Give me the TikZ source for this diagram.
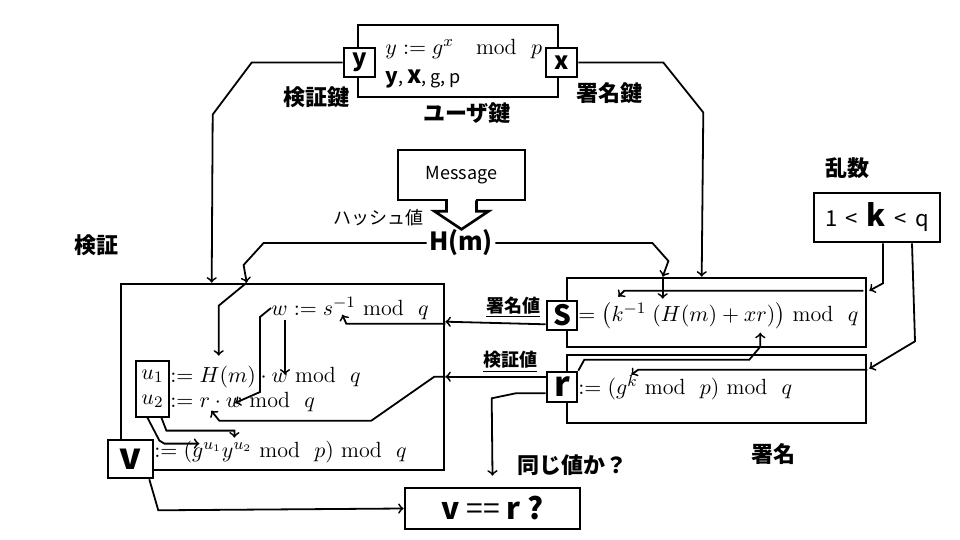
\documentclass[tikz,border=0pt]{standalone}
\usepackage{amsmath}
\usepackage{fontspec}
\newfontfamily\jp{Noto Sans CJK JP}
\usetikzlibrary{calc}

\newcommand{\md}{\ \mathrm{mod}\ \ }

\tikzset{
  frame/.style={draw=black, line width=1.3pt, inner sep=0pt},
  keybox/.style={draw=black, line width=1.3pt, fill=white, inner sep=0pt, font=\jp\bfseries},
  lbl/.style={font=\jp\bfseries\fontsize{11}{13}\selectfont},
  eq/.style={font=\fontsize{11}{13}\selectfont, inner sep=0pt, anchor=west},
  ptr/.style={black, line width=0.9pt, ->},
}

\begin{document}
\begin{tikzpicture}[x=0.5pt, y=-0.5pt]
\useasboundingbox (0, 0) rectangle (960, 540);

% user key
\node (ukey) at (458, 61) [frame, minimum width=100pt, minimum height=36pt] {};
\node (ydef) at (385, 49) [eq] {$y := g^x \quad \mathrm{mod}\ \ p$};
\node (yxgp) at (385, 79) [anchor=west, inner sep=0pt, font=\jp\fontsize{9}{11}\selectfont] {{\bfseries\fontsize{10.5}{11}\selectfont y}, {\bfseries\fontsize{12}{11}\selectfont x}, g, p};
\node (yk) at (359.5, 62.5) [keybox, minimum width=15.5pt, minimum height=14.5pt, font=\jp\bfseries\fontsize{12}{12}\selectfont] {y};
\node (xk) at (561.5, 62.5) [keybox, minimum width=15.5pt, minimum height=14.5pt, font=\jp\bfseries\fontsize{12}{12}\selectfont] {x};
\node (vkey) at (316, 97) [lbl] {検証鍵};
\node (skey) at (609, 93) [lbl] {署名鍵};
\node (ulbl) at (467, 113) [lbl] {ユーザ鍵};

% message and hash
\node (msg) at (461.5, 175) [frame, minimum width=63.5pt, minimum height=25pt, font=\jp\fontsize{9}{11}\selectfont] {Message};
\fill[white] ($(msg.south)+(-14, -2)$) rectangle ($(msg.south)+(14, 2)$);
\draw[line width=1.3pt] ($(msg.south)+(-15, -1)$) -- ++(0, 11) -- ++(-12, 0) -- ++(27, 18) -- ++(27, -18) -- ++(-12, 0) -- ++(0, -11);
\node (hash) at (378, 218) [font=\jp\fontsize{9}{11}\selectfont] {ハッシュ値};
\node (hm) at (461, 243) [inner sep=1pt, font=\jp\bfseries\fontsize{12.5}{14}\selectfont] {H(m)};

% verification
\node (vlbl) at (97, 245) [lbl] {検証};
\node (ver) at (282.5, 377) [frame, minimum width=161.5pt, minimum height=93pt] {};
\node (wdef) at (271, 308) [eq] {$w := s^{-1} \md q$};
\node (uu) at (152.5, 389) [draw, line width=0.6pt, inner sep=1pt, minimum width=16.5pt, minimum height=28pt, font=\fontsize{11}{12.5}\selectfont, align=center] {$u_1$\\$u_2$};
\node (u1def) at (170, 377) [eq] {$:= H(m)\cdot w \md q$};
\node (u2def) at (170, 402) [eq] {$:= r\cdot w \md q$};
\node (vdef) at (154, 452) [eq] {$:= (g^{u_1}y^{u_2} \md p) \md q$};
\node (vk) at (130.5, 459) [keybox, minimum width=22.5pt, minimum height=19pt, font=\jp\bfseries\fontsize{18}{18}\selectfont] {v};

% signature
\node (sgn) at (716.5, 312.5) [frame, minimum width=149.5pt, minimum height=34.5pt] {};
\node (rgn) at (716.5, 389) [frame, minimum width=149.5pt, minimum height=34pt] {};
\node (slbl) at (773, 454) [lbl] {署名};
\node (sdef) at (578, 316) [eq] {$= \bigl(k^{-1}\;(H(m) + xr)\bigr) \md q$};
\node (rdef) at (578, 388) [eq] {$:= (g^k \md p) \md q$};
\node (sk) at (562, 315.5) [keybox, minimum width=15pt, minimum height=14.5pt, font=\jp\bfseries\fontsize{14}{14}\selectfont] {S};
\node (rk) at (562, 387) [keybox, minimum width=15pt, minimum height=15pt, font=\jp\bfseries\fontsize{17}{17}\selectfont] {r};
\node (sval) at (513, 307) [font=\jp\bfseries\fontsize{9}{11}\selectfont] {\underline{署名値}};
\node (rval) at (510, 362) [font=\jp\bfseries\fontsize{9}{11}\selectfont] {\underline{検証値}};

% random number
\node (rlbl) at (847, 168) [lbl] {乱数};
\node (rnd) at (877, 217.5) [frame, minimum width=63pt, minimum height=24.5pt, font=\jp\fontsize{11}{12}\selectfont] {1 \,<\, {\bfseries\fontsize{15}{15}\selectfont k} \,<\, q};

% check
\node (chk) at (492.5, 508.5) [frame, minimum width=87.5pt, minimum height=20.5pt, font=\jp\bfseries\fontsize{15}{15}\selectfont] {v {\mdseries==} r ?};
\node (same) at (572, 465) [lbl] {同じ値か？};

% keys
\draw[ptr] (yk.west) -- ++(-91, 0) -- ++(-39, 52) -- ($(ver.north west)+(92, 0)$);
\draw[ptr] (xk.east) -- ++(85, 0) -- ++(40, 50) -- ($(sgn.north west)+(136, 0)$);

% hash value
\draw[ptr] (hm.west) -- ++(-163, 0) -- ++(-20, 22) -- ($(ver.north west)+(127, 0)$);
\draw[ptr] ($(ver.north west)+(127, 0)$) -- ++(-28, 23) -- ++(0, 50);
\draw[ptr] (hm.east) -- ++(157, 0) -- ++(16, 18) -- ($(sgn.north west)+(97, 0)$);
\draw[ptr] ($(sgn.north west)+(97, 0)$) -- ++(0, 22);

% k
\draw[ptr] ($(rnd.south)+(6, 0)$) -- ++(0, 40) -- ($(sgn.north east)+(2, 14)$);
\draw[ptr] ($(sgn.north east)+(-4, 14)$) -- ++(-239, 0) -- ++(-6, 6);
\draw[ptr] ($(rnd.south)+(35, 0)$) -- ++(3, 98) -- ($(rgn.north east)+(2, 15)$);
\draw[ptr] ($(rgn.north east)+(0, 16)$) -- ++(-229, 0) -- ++(-7, 5);
\draw[ptr] (rk.north east) -- ++(6, -11) -- ++(165, 0) -- ++(11, -13) -- ++(0, -14);

% s and r to verification
\draw[ptr] ($(sk.south west)+(0, -7)$) -- ($(ver.north east)+(0, 39)$);
\draw[ptr] ($(ver.north east)+(0, 41)$) -- ++(-99, 0) -- ++(-4, -9);
\draw[ptr] ($(rk.north west)+(0, 6)$) -- ($(ver.north east)+(0, 94)$);
\draw[ptr] ($(ver.north east)+(0, 94)$) -- ++(-11, 0) -- ++(-63, 44) -- ++(-152, 0) -- ++(-8, -10);
\draw[ptr] ($(rk.south west)+(0, -10)$) -- ++(-30, 0) -- ++(-24, 5) -- ($(chk.north)+(0, -11)$);

% inside verification
\draw[ptr] ($(wdef.south west)+(14, 0)$) -- ++(0, 55);
\draw[ptr] (wdef.west) -- ++(-11, 9) -- ++(0, 75) -- ++(-25, 11);
\draw[ptr] ($(uu.south west)+(12, 0)$) -- ++(12, 23) -- ++(5, 3) -- ++(35, 0);
\draw[ptr] ($(uu.south west)+(26, 0)$) -- ++(5, 13) -- ++(68, 0) -- ++(0, 7);
\draw[ptr] ($(vk.south east)+(-5, 0)$) -- ++(9, 31) -- (chk.west);

\end{tikzpicture}
\end{document}
